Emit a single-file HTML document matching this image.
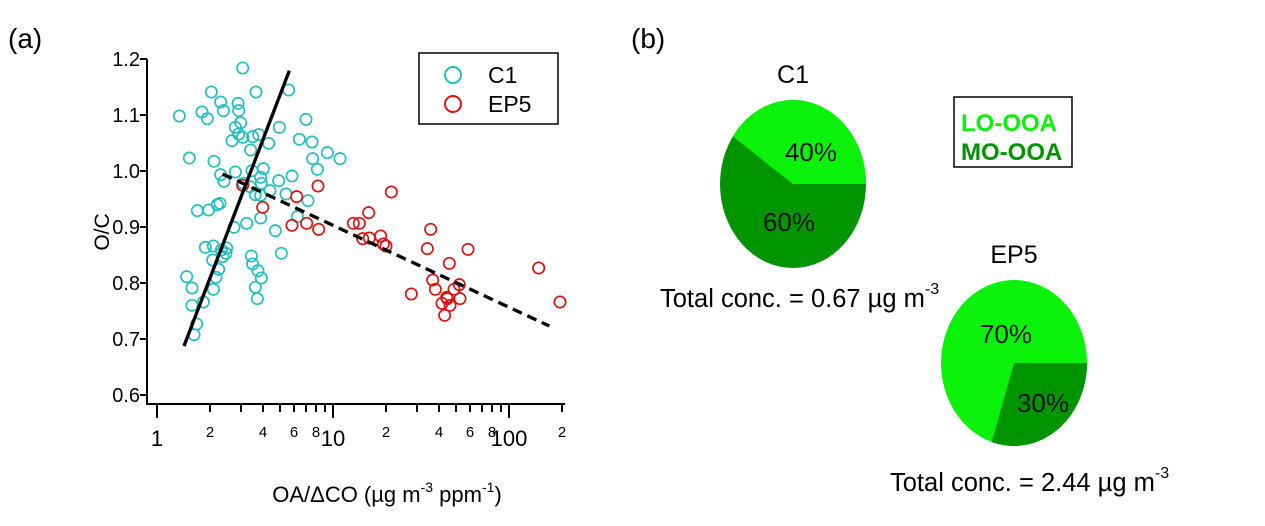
<!DOCTYPE html>
<html><head><meta charset="utf-8"><style>
html,body{margin:0;padding:0;background:#fff;}
svg{display:block;font-family:"Liberation Sans",sans-serif;}
</style></head><body>
<svg width="1265" height="526" viewBox="0 0 1265 526">
<text x="8" y="48" font-size="28">(a)</text>
<text x="631" y="48" font-size="28">(b)</text>
<g stroke="#000" stroke-width="2" fill="none">
<path d="M147,59 V404 H565"/>
<path d="M140,59H147M140,115H147M140,171H147M140,227H147M140,283H147M140,339H147M140,395H147"/>
</g>
<g stroke="#000" stroke-width="2">
<line x1="157" y1="404" x2="157" y2="418"/><line x1="333" y1="404" x2="333" y2="418"/><line x1="509" y1="404" x2="509" y2="418"/>
<line x1="210" y1="404" x2="210" y2="412"/><line x1="241" y1="404" x2="241" y2="412"/><line x1="263" y1="404" x2="263" y2="412"/><line x1="280" y1="404" x2="280" y2="412"/><line x1="294" y1="404" x2="294" y2="412"/><line x1="306" y1="404" x2="306" y2="412"/><line x1="316" y1="404" x2="316" y2="412"/><line x1="325" y1="404" x2="325" y2="412"/>
<line x1="386" y1="404" x2="386" y2="412"/><line x1="417" y1="404" x2="417" y2="412"/><line x1="439" y1="404" x2="439" y2="412"/><line x1="456" y1="404" x2="456" y2="412"/><line x1="470" y1="404" x2="470" y2="412"/><line x1="482" y1="404" x2="482" y2="412"/><line x1="492" y1="404" x2="492" y2="412"/><line x1="501" y1="404" x2="501" y2="412"/>
<line x1="562" y1="404" x2="562" y2="412"/>
</g>
<g font-size="20" text-anchor="end">
<text x="140" y="66">1.2</text><text x="140" y="122">1.1</text><text x="140" y="178">1.0</text><text x="140" y="234">0.9</text><text x="140" y="290">0.8</text><text x="140" y="346">0.7</text><text x="140" y="402">0.6</text>
</g>
<g font-size="22" text-anchor="middle">
<text x="157" y="446">1</text><text x="333" y="446">10</text><text x="509" y="446">100</text>
</g>
<g font-size="15" text-anchor="middle">
<text x="210" y="437">2</text><text x="263" y="437">4</text><text x="294" y="437">6</text><text x="316" y="437">8</text>
<text x="386" y="437">2</text><text x="439" y="437">4</text><text x="470" y="437">6</text><text x="492" y="437">8</text><text x="562" y="437">2</text>
</g>
<text x="387" y="502" font-size="22" text-anchor="middle">OA/ΔCO  (µg m<tspan dy="-10" font-size="14">-3</tspan><tspan dy="10"> ppm</tspan><tspan dy="-10" font-size="14">-1</tspan><tspan dy="10">)</tspan></text>
<text transform="translate(109,232) rotate(-90)" font-size="21" text-anchor="middle">O/C</text>
<g transform="translate(90,40) scale(0.33333)" fill="none">
<g stroke="#20c0c0" stroke-width="5">
<circle cx="268" cy="228" r="17"/><circle cx="458" cy="84" r="17"/><circle cx="498" cy="156" r="17"/><circle cx="596" cy="150" r="17"/><circle cx="364" cy="156" r="17"/><circle cx="336" cy="216" r="17"/><circle cx="352" cy="236" r="17"/><circle cx="392" cy="186" r="17"/><circle cx="400" cy="212" r="17"/><circle cx="444" cy="190" r="17"/><circle cx="446" cy="212" r="17"/><circle cx="436" cy="262" r="17"/><circle cx="452" cy="248" r="17"/><circle cx="446" cy="282" r="17"/><circle cx="426" cy="302" r="17"/><circle cx="458" cy="292" r="17"/><circle cx="488" cy="290" r="17"/><circle cx="506" cy="284" r="17"/><circle cx="482" cy="330" r="17"/><circle cx="536" cy="310" r="17"/><circle cx="568" cy="262" r="17"/><circle cx="648" cy="238" r="17"/><circle cx="628" cy="298" r="17"/><circle cx="666" cy="306" r="17"/><circle cx="712" cy="338" r="17"/><circle cx="750" cy="356" r="17"/><circle cx="668" cy="356" r="17"/><circle cx="682" cy="388" r="17"/><circle cx="298" cy="354" r="17"/><circle cx="372" cy="364" r="17"/><circle cx="392" cy="404" r="17"/><circle cx="402" cy="424" r="17"/><circle cx="436" cy="396" r="17"/><circle cx="486" cy="392" r="17"/><circle cx="520" cy="386" r="17"/><circle cx="512" cy="412" r="17"/><circle cx="514" cy="430" r="17"/><circle cx="496" cy="464" r="17"/><circle cx="512" cy="466" r="17"/><circle cx="540" cy="452" r="17"/><circle cx="566" cy="422" r="17"/><circle cx="606" cy="408" r="17"/><circle cx="588" cy="462" r="17"/><circle cx="654" cy="482" r="17"/><circle cx="622" cy="530" r="17"/><circle cx="556" cy="572" r="17"/><circle cx="470" cy="550" r="17"/><circle cx="512" cy="534" r="17"/><circle cx="432" cy="562" r="17"/><circle cx="322" cy="512" r="17"/><circle cx="356" cy="510" r="17"/><circle cx="382" cy="494" r="17"/><circle cx="390" cy="490" r="17"/><circle cx="346" cy="622" r="17"/><circle cx="370" cy="618" r="17"/><circle cx="394" cy="630" r="17"/><circle cx="410" cy="624" r="17"/><circle cx="398" cy="650" r="17"/><circle cx="368" cy="660" r="17"/><circle cx="386" cy="688" r="17"/><circle cx="378" cy="712" r="17"/><circle cx="370" cy="748" r="17"/><circle cx="290" cy="710" r="17"/><circle cx="306" cy="744" r="17"/><circle cx="306" cy="796" r="17"/><circle cx="340" cy="786" r="17"/><circle cx="320" cy="852" r="17"/><circle cx="312" cy="884" r="17"/><circle cx="484" cy="648" r="17"/><circle cx="488" cy="672" r="17"/><circle cx="504" cy="692" r="17"/><circle cx="514" cy="714" r="17"/><circle cx="496" cy="742" r="17"/><circle cx="502" cy="776" r="17"/><circle cx="574" cy="640" r="17"/><circle cx="408" cy="640" r="17"/><circle cx="480" cy="440" r="17"/><circle cx="460" cy="430" r="17"/>
</g>
<g stroke="#e01010" stroke-width="5">
<circle cx="458" cy="436" r="17"/><circle cx="518" cy="502" r="17"/><circle cx="620" cy="470" r="17"/><circle cx="684" cy="438" r="17"/><circle cx="606" cy="556" r="17"/><circle cx="650" cy="550" r="17"/><circle cx="686" cy="568" r="17"/><circle cx="790" cy="550" r="17"/><circle cx="808" cy="550" r="17"/><circle cx="836" cy="518" r="17"/><circle cx="818" cy="596" r="17"/><circle cx="838" cy="594" r="17"/><circle cx="872" cy="588" r="17"/><circle cx="880" cy="612" r="17"/><circle cx="888" cy="618" r="17"/><circle cx="904" cy="456" r="17"/><circle cx="1022" cy="568" r="17"/><circle cx="1012" cy="626" r="17"/><circle cx="1078" cy="670" r="17"/><circle cx="1134" cy="628" r="17"/><circle cx="964" cy="762" r="17"/><circle cx="1028" cy="720" r="17"/><circle cx="1036" cy="748" r="17"/><circle cx="1056" cy="790" r="17"/><circle cx="1070" cy="772" r="17"/><circle cx="1080" cy="796" r="17"/><circle cx="1064" cy="826" r="17"/><circle cx="1072" cy="776" r="17"/><circle cx="1092" cy="748" r="17"/><circle cx="1108" cy="734" r="17"/><circle cx="1110" cy="776" r="17"/><circle cx="1346" cy="684" r="17"/><circle cx="1410" cy="786" r="17"/>
</g>
<line x1="282" y1="918" x2="598" y2="92" stroke="#000" stroke-width="10"/>
<line x1="398" y1="402" x2="1378" y2="858" stroke="#000" stroke-width="10" stroke-dasharray="30,18"/>
</g>
<rect x="419" y="53" width="139" height="71" fill="#fff" stroke="#000" stroke-width="1.5"/>
<circle cx="453" cy="75" r="8" fill="none" stroke="#20c0c0" stroke-width="2"/>
<circle cx="453" cy="104" r="8" fill="none" stroke="#e01010" stroke-width="2"/>
<text x="488" y="83" font-size="23">C1</text>
<text x="488" y="112" font-size="23">EP5</text>
<text x="793" y="83" font-size="25" text-anchor="middle">C1</text>
<ellipse cx="793" cy="184" rx="73" ry="84" fill="#009400"/>
<path d="M793,184 L866,184 A73,84 0 0 0 732.9,136.4 Z" fill="#0af20a"/>
<text x="811" y="161" font-size="26" text-anchor="middle" fill="#111">40%</text>
<text x="789" y="231" font-size="26" text-anchor="middle" fill="#111">60%</text>
<text x="660" y="307" font-size="25.5">Total conc. = 0.67 µg m<tspan dy="-13" font-size="16">-3</tspan></text>
<rect x="954" y="97" width="118" height="70" fill="#fff" stroke="#000" stroke-width="1.5"/>
<text x="961" y="131" font-size="24" font-weight="bold" fill="#0af20a">LO-OOA</text>
<text x="961" y="160" font-size="24" font-weight="bold" fill="#009400">MO-OOA</text>
<text x="1014" y="263" font-size="25" text-anchor="middle">EP5</text>
<ellipse cx="1014" cy="363" rx="73" ry="83" fill="#0af20a"/>
<path d="M1014,363 L1087,363 A73,83 0 0 1 991.7,442 Z" fill="#009400"/>
<text x="1006" y="343" font-size="26" text-anchor="middle" fill="#111">70%</text>
<text x="1043" y="412" font-size="26" text-anchor="middle" fill="#111">30%</text>
<text x="890" y="491" font-size="25.5">Total conc. = 2.44 µg m<tspan dy="-13" font-size="16">-3</tspan></text>
</svg>
</body></html>
